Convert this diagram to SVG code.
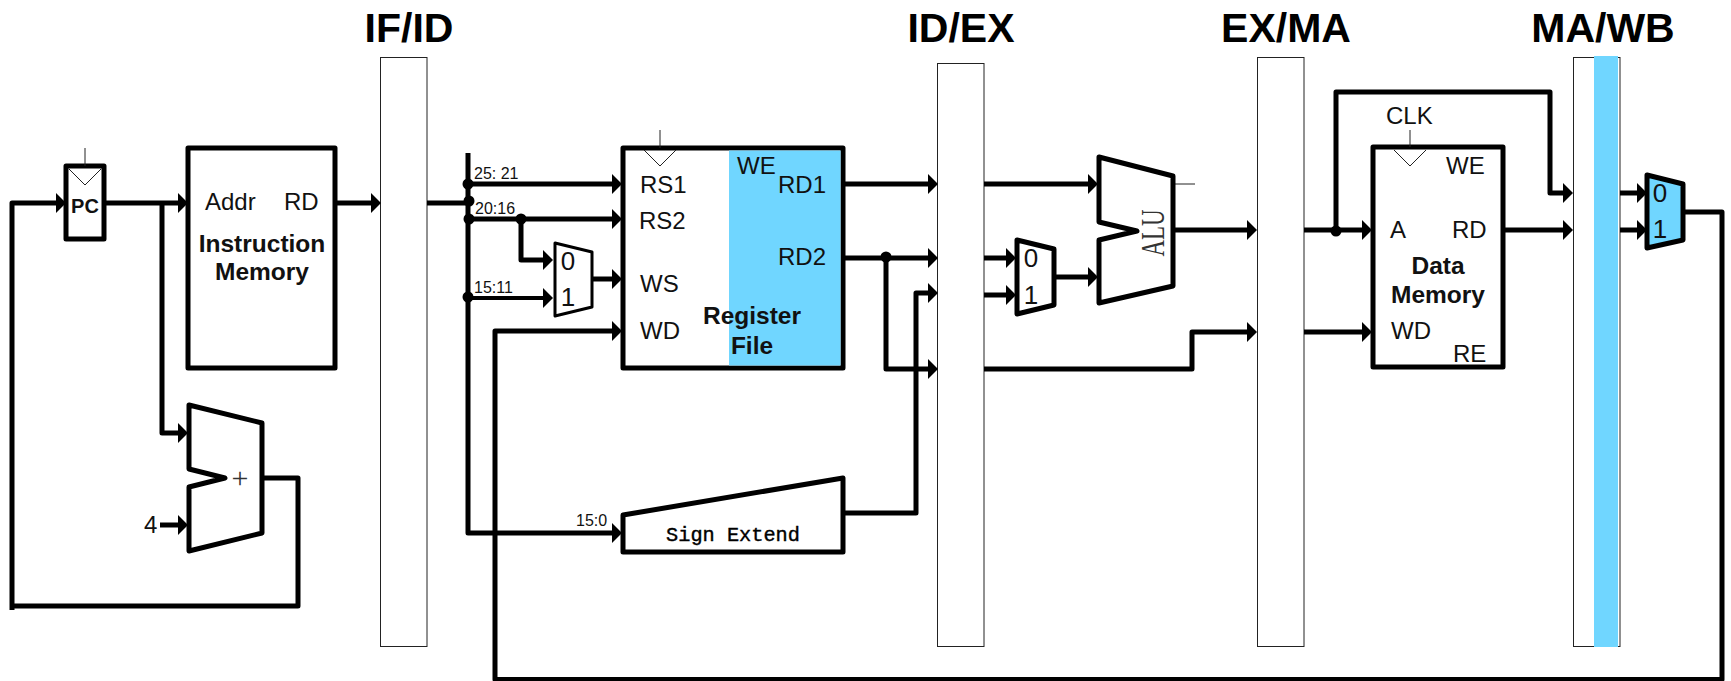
<svg xmlns="http://www.w3.org/2000/svg" width="1731" height="681" viewBox="0 0 1731 681">
<style>
text{font-family:"Liberation Sans",Arial,sans-serif;font-size:24px;fill:#111}
.b{font-weight:bold;font-size:24.500px;text-anchor:middle}
.title{font-weight:bold;font-size:41px;text-anchor:middle;fill:#000}
.sm{font-size:16px}
.mid{text-anchor:middle;font-size:26px}
.box{fill:#fff;stroke:#000;stroke-width:5;stroke-linejoin:round}
.blue{fill:#70d6ff}
.bar{fill:#fff;stroke:#222;stroke-width:1}
.thin{fill:none;stroke:#222;stroke-width:1}
.w{fill:none;stroke:#000;stroke-width:5;stroke-linejoin:round}
.m{stroke-width:4}
.dot{fill:#000;stroke:none}
</style>
<defs>
<marker id="arr" markerUnits="userSpaceOnUse" markerWidth="10" markerHeight="20" viewBox="0 0 10 20" refX="0" refY="10" orient="auto"><path d="M0,0L10,10L0,20Z" fill="#000"/></marker>
</defs>
<rect width="1731" height="681" fill="#fff"/>
<g id="title-if-id"><text class="title" x="409" y="42">IF/ID</text></g>
<g id="title-id-ex"><text class="title" x="961" y="42">ID/EX</text></g>
<g id="title-ex-ma"><text class="title" x="1286" y="42">EX/MA</text></g>
<g id="title-ma-wb"><text class="title" x="1603" y="42">MA/WB</text></g>

<g id="if-id-register"><rect class="bar" x="380.5" y="57.5" width="46.5" height="589"/></g>
<g id="id-ex-register"><rect class="bar" x="937.5" y="63.5" width="46.5" height="583"/></g>
<g id="ex-ma-register"><rect class="bar" x="1257.5" y="57.5" width="46.5" height="589"/></g>
<g id="ma-wb-register"><rect class="bar" x="1573.5" y="57.5" width="46.5" height="589"/><rect class="blue" x="1594" y="56" width="24" height="591"/></g>

<g id="connectors">
<path class="w" d="M12,610V203H56" marker-end="url(#arr)"/>
<path class="w" d="M12,606H298V478H262"/>
<path class="w" d="M104,203H178" marker-end="url(#arr)"/>
<path class="w" d="M162,203V433H178" marker-end="url(#arr)"/>
<path class="w" d="M160,525H178" marker-end="url(#arr)"/>
<path class="w" d="M335,203H371" marker-end="url(#arr)"/>
<path class="w" d="M427,203H468"/>
<path class="w" d="M468,153V533H612" marker-end="url(#arr)"/>
<path class="w" d="M468,184H612" marker-end="url(#arr)"/>
<path class="w" d="M468,219H612" marker-end="url(#arr)"/>
<path class="w" d="M521,219V260H543" marker-end="url(#arr)"/>
<path class="w m" d="M468,298H543" marker-end="url(#arr)"/>
<path class="w" d="M592,279H612" marker-end="url(#arr)"/>
<path class="w" d="M1685,212H1722V679.500H495V331H612" marker-end="url(#arr)"/>
<path class="w" d="M843,184H928" marker-end="url(#arr)"/>
<path class="w" d="M843,258H928" marker-end="url(#arr)"/>
<path class="w" d="M886,258V369H928" marker-end="url(#arr)"/>
<path class="w" d="M842,513H916V293H928" marker-end="url(#arr)"/>
<path class="w" d="M984,184H1088" marker-end="url(#arr)"/>
<path class="w" d="M984,258H1006" marker-end="url(#arr)"/>
<path class="w" d="M984,295H1006" marker-end="url(#arr)"/>
<path class="w" d="M1056,277H1088" marker-end="url(#arr)"/>
<path class="w" d="M1175,230H1247" marker-end="url(#arr)"/>
<path class="w" d="M984,369H1192V332H1247" marker-end="url(#arr)"/>
<path class="w" d="M1304,230H1362" marker-end="url(#arr)"/>
<path class="w" d="M1304,332H1362" marker-end="url(#arr)"/>
<path class="w" d="M1336,230V92H1550V193H1563" marker-end="url(#arr)"/>
<path class="w" d="M1503,230H1563" marker-end="url(#arr)"/>
<path class="w" d="M1620,193H1637" marker-end="url(#arr)"/>
<path class="w" d="M1620,230H1637" marker-end="url(#arr)"/>
<path class="thin" d="M1175,184H1195"/>
<circle class="dot" cx="468" cy="184" r="5.5"/>
<circle class="dot" cx="469" cy="201" r="5.5"/>
<circle class="dot" cx="469" cy="219" r="5.5"/>
<circle class="dot" cx="521" cy="219" r="5.5"/>
<circle class="dot" cx="468" cy="297" r="5.5"/>
<circle class="dot" cx="886" cy="257" r="5.5"/>
<circle class="dot" cx="1336" cy="231" r="5.5"/>
</g>

<g id="pc">
<rect class="box" x="66" y="166" width="38" height="73"/>
<path class="thin" d="M85,148V166M69,169L85,185L101,169"/>
<text class="b" x="85" y="213" style="font-size:20px">PC</text>
</g>
<g id="instruction-memory">
<rect class="box" x="188" y="148" width="147" height="220"/>
<text x="205" y="210">Addr</text>
<text x="284" y="210">RD</text>
<text class="b" x="262" y="252">Instruction</text>
<text class="b" x="262" y="280">Memory</text>
</g>
<g id="pc-adder">
<path class="box" d="M189,405L262,423V533L189,551V487L225,478L189,469Z"/>
<text x="240" y="488" text-anchor="middle" style="font-family:'Liberation Serif',serif;font-size:30px;fill:#333">+</text>
</g>
<g id="constant-4"><text x="144" y="533">4</text></g>
<g id="bit-labels">
<text class="sm" x="474" y="179">25: 21</text>
<text class="sm" x="475" y="214">20:16</text>
<text class="sm" x="474" y="293">15:11</text>
<text class="sm" x="576" y="526">15:0</text>
</g>
<g id="ws-mux">
<path class="box" style="stroke-width:3" d="M555,243L592,252V307L555,316Z"/>
<text class="mid" x="568" y="270">0</text>
<text class="mid" x="568" y="306">1</text>
</g>
<g id="register-file">
<rect class="box" x="623" y="148" width="220" height="220"/>
<rect class="blue" x="729" y="150.500" width="111.500" height="215"/>
<path class="thin" d="M660,130V148M644,150L660,166L676,150"/>
<text x="640" y="193">RS1</text>
<text x="639" y="229">RS2</text>
<text x="640" y="292">WS</text>
<text x="640" y="339">WD</text>
<text x="737" y="174">WE</text>
<text x="778" y="193">RD1</text>
<text x="778" y="265">RD2</text>
<text class="b" x="752" y="324">Register</text>
<text class="b" x="752" y="354">File</text>
</g>
<g id="sign-extend">
<path class="box" d="M623,515L843,478V552H623Z"/>
<text x="733" y="541" text-anchor="middle" style="font-family:'Liberation Mono',monospace;font-size:20.300px;fill:#000;stroke:#000;stroke-width:.4">Sign Extend</text>
</g>
<g id="alu-mux">
<path class="box" d="M1017,240L1054,249V305L1017,314Z"/>
<text class="mid" x="1031" y="267">0</text>
<text class="mid" x="1031" y="304">1</text>
</g>
<g id="alu">
<path class="box" d="M1099,157L1173,176V286L1099,303V240L1137,231L1099,222Z"/>
<text transform="translate(1164,233) rotate(-90)" text-anchor="middle" textLength="47" lengthAdjust="spacingAndGlyphs" style="font-family:'Liberation Serif',serif;font-size:33px;font-weight:normal;fill:#333">ALU</text>
</g>
<g id="data-memory">
<rect class="box" x="1373" y="147" width="130" height="220"/>
<path class="thin" d="M1410,130V147M1394,150L1410,166L1426,150"/>
<text x="1386" y="124">CLK</text>
<text x="1446" y="174">WE</text>
<text x="1390" y="238">A</text>
<text x="1452" y="238">RD</text>
<text class="b" x="1438" y="274">Data</text>
<text class="b" x="1438" y="303">Memory</text>
<text x="1391" y="339">WD</text>
<text x="1453" y="362">RE</text>
</g>
<g id="wb-mux">
<path class="box" d="M1647,175L1683,184V240L1647,248Z" style="fill:#70d6ff"/>
<text class="mid" x="1660" y="202">0</text>
<text class="mid" x="1660" y="238">1</text>
</g>
</svg>
